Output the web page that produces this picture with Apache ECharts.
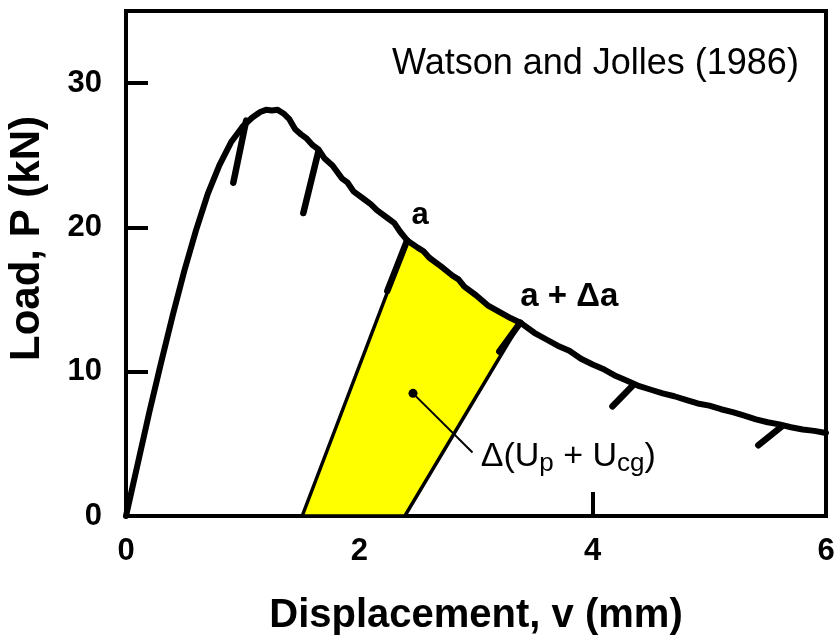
<!DOCTYPE html>
<html>
<head>
<meta charset="utf-8">
<script src="https://cdn.jsdelivr.net/npm/echarts@6/dist/echarts.min.js"></script>
<style>
  html, body { margin: 0; padding: 0; background: #ffffff; }
  #chart { width: 840px; height: 641px; }
</style>
</head>
<body>
<div id="chart"></div>
<script>
// Load–displacement record (v in mm, P in kN)
const displacement = [0, 0.05, 0.1, 0.2, 0.3, 0.4, 0.5, 0.6, 0.7, 0.8, 0.9, 1.0, 1.08, 1.15, 1.2, 1.25, 1.3, 1.35,
  1.4, 1.45, 1.5, 1.55, 1.6, 1.65, 1.7, 1.77, 1.85, 1.9, 1.95, 2.05, 2.1, 2.15, 2.25, 2.3, 2.35, 2.41, 2.5, 2.55,
  2.6, 2.7, 2.8, 2.85, 2.9, 3.0, 3.1, 3.2, 3.3, 3.38, 3.5, 3.6, 3.7, 3.8, 3.9, 4.0, 4.1, 4.2, 4.3, 4.4, 4.5,
  4.6, 4.7, 4.8, 4.9, 5.0, 5.1, 5.2, 5.3, 5.4, 5.5, 5.6, 5.7, 5.8, 5.9, 6.0];
const load = [0, 1.8, 3.6, 7.2, 10.6, 13.9, 17.0, 19.8, 22.3, 24.3, 25.9, 27.0, 27.6, 28.0, 28.15, 28.1, 28.15, 27.9,
  27.5, 26.8, 26.45, 26.15, 25.7, 25.4, 24.8, 24.3, 23.4, 23.1, 22.5, 21.9, 21.6, 21.2, 20.6, 20.3, 19.7, 19.1, 18.6,
  18.35, 17.9, 17.3, 16.65, 16.4, 15.9, 15.3, 14.6, 14.15, 13.7, 13.4, 12.7, 12.25, 11.8, 11.45, 10.9, 10.5, 10.15,
  9.7, 9.35, 9.0, 8.75, 8.5, 8.3, 8.05, 7.8, 7.65, 7.4, 7.2, 6.95, 6.7, 6.5, 6.35, 6.15, 6.0, 5.9, 5.75];

// Partial unloading segments: start (on the curve) and end
const unloadStartV = [1.03, 1.65, 2.41, 3.38, 4.35, 5.62];
const unloadStartP = [27.4, 25.3, 19.1, 13.4, 9.1, 6.2];
const unloadEndV   = [0.92, 1.52, 2.24, 3.20, 4.17, 5.42];
const unloadEndP   = [23.1, 21.0, 15.6, 11.4, 7.6, 4.9];

// Unloading lines at crack lengths a and a + Δa, extended to zero load
const lineA      = [[2.41, 19.1], [1.51, 0]];
const lineADelta = [[3.38, 13.4], [2.39, 0]];

// Energy increment marker and leader
const markerPoint = [2.46, 8.5];
const leaderEnd   = [2.97, 4.4];

// Axis ticks
const xTicks = [0, 2, 4, 6];
const yTicks = [0, 10, 20, 30];

const FONT = 'Liberation Sans, Arial, Helvetica, sans-serif';

const curve = displacement.map((v, i) => [v, load[i]]);
const unloadSegs = unloadStartV.map((v, i) => [v, unloadStartP[i], unloadEndV[i], unloadEndP[i]]);

// Shaded region: bounded by the two unloading lines and the curve between them
const bandPoints = [lineA[1], lineA[0]]
  .concat(curve.filter(p => p[0] > lineA[0][0] && p[0] < lineADelta[0][0]))
  .concat([lineADelta[0], lineADelta[1]]);

const chart = echarts.init(document.getElementById('chart'), null, { renderer: 'canvas' });

const textLabel = (pos, text, style) => ({
  value: pos,
  label: Object.assign({ show: true, position: [0, 0], formatter: text, color: '#000', opacity: 1, fontFamily: FONT }, style)
});

chart.setOption({
  animation: false,
  backgroundColor: '#ffffff',
  grid: {
    left: 126, right: 14, top: 11, bottom: 125,
    outerBoundsMode: 'none', containLabel: false,
    show: true, borderColor: '#000', borderWidth: 4, backgroundColor: 'transparent'
  },
  xAxis: {
    type: 'value', min: 0, max: 6, interval: 2,
    name: 'Displacement, v (mm)', nameLocation: 'middle', nameGap: 80,
    nameTextStyle: { fontFamily: FONT, fontWeight: 'bold', fontSize: 40, color: '#000' },
    axisLine: { show: true, lineStyle: { color: '#000', width: 4 } },
    axisTick: { show: true, inside: true, length: 24, lineStyle: { color: '#000', width: 4 } },
    axisLabel: {
      fontFamily: FONT, fontWeight: 'bold', fontSize: 31, color: '#000', margin: 20,
      formatter: v => (xTicks.includes(v) ? String(v) : '')
    },
    splitLine: { show: false }
  },
  yAxis: {
    type: 'value', min: 0, max: 35, interval: 10,
    name: 'Load, P (kN)', nameLocation: 'middle', nameGap: 78,
    nameTextStyle: { fontFamily: FONT, fontWeight: 'bold', fontSize: 42, color: '#000', padding: [0, 0, 0, 50] },
    axisLine: { show: true, lineStyle: { color: '#000', width: 4 } },
    axisTick: { show: true, inside: true, length: 22, lineStyle: { color: '#000', width: 4 } },
    axisLabel: {
      fontFamily: FONT, fontWeight: 'bold', fontSize: 31, color: '#000', margin: 24,
      formatter: v => (yTicks.includes(v) ? String(v) : '')
    },
    splitLine: { show: false }
  },
  series: [
    {
      // shaded energy increment between a and a + Δa
      type: 'custom', z: 3, silent: true,
      data: [[0, 0]],
      renderItem: (params, api) => ({
        type: 'polygon',
        shape: { points: bandPoints.map(p => api.coord(p)) },
        style: { fill: '#ffff00', stroke: '#000', lineWidth: 3.5, lineJoin: 'miter' }
      })
    },
    {
      // partial unloading segments
      type: 'custom', z: 6, silent: true,
      data: unloadSegs,
      renderItem: (params, api) => {
        const p1 = api.coord([api.value(0), api.value(1)]);
        const p2 = api.coord([api.value(2), api.value(3)]);
        return {
          type: 'line',
          shape: { x1: p1[0], y1: p1[1], x2: p2[0], y2: p2[1] },
          style: { stroke: '#000', lineWidth: 6.5, lineCap: 'round' }
        };
      }
    },
    {
      type: 'line', z: 5, data: curve, showSymbol: false, symbol: 'none',
      lineStyle: { color: '#000', width: 6, join: 'round', cap: 'round' }
    },
    {
      type: 'line', z: 7, data: [markerPoint, leaderEnd], showSymbol: false, symbol: 'none',
      lineStyle: { color: '#000', width: 2 }
    },
    {
      type: 'scatter', z: 8, data: [markerPoint], symbol: 'circle', symbolSize: 9,
      itemStyle: { color: '#000', opacity: 1 }
    },
    {
      type: 'scatter', z: 9, symbolSize: 0, silent: true,
      itemStyle: { opacity: 1 },
      data: [
        textLabel([2.28, 31.3], 'Watson and Jolles (1986)',
          { fontSize: 36, align: 'left', verticalAlign: 'middle' }),
        textLabel([2.52, 20.8], 'a',
          { fontSize: 31, fontWeight: 'bold', align: 'center', verticalAlign: 'middle' }),
        textLabel([3.38, 15.2], 'a + Δa',
          { fontSize: 33, fontWeight: 'bold', align: 'left', verticalAlign: 'middle' }),
        textLabel([3.04, 4.1], '{n|Δ(U}{s|p}{n| + U}{s|cg}{n|)}',
          {
            align: 'left', verticalAlign: 'middle',
            rich: {
              n: { fontFamily: FONT, fontSize: 34, color: '#000', lineHeight: 44, verticalAlign: 'middle' },
              s: { fontFamily: FONT, fontSize: 26, color: '#000', lineHeight: 44, verticalAlign: 'middle', padding: [14, 0, 0, 0] }
            }
          })
      ]
    }
  ]
});
</script>
</body>
</html>
